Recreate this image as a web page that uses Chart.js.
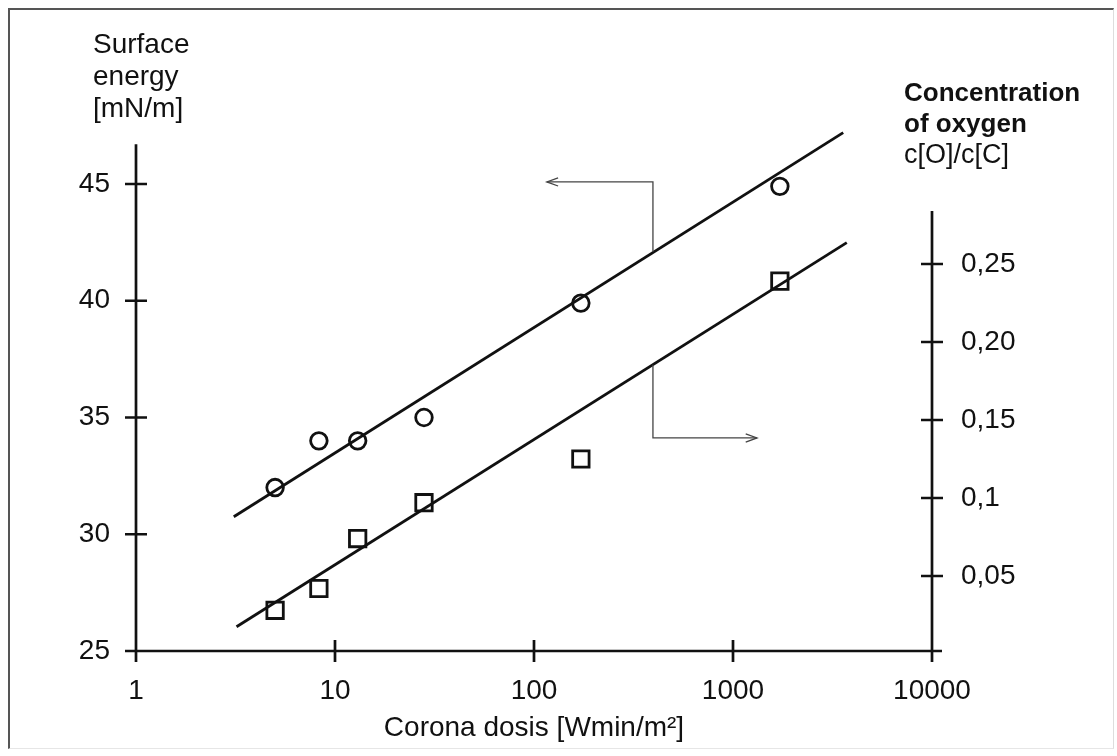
<!DOCTYPE html>
<html lang="en">
<head>
<meta charset="UTF-8">
<title>Surface energy and oxygen concentration vs corona dosis</title>
<style>
    body {
        margin: 0;
        background: #fff;
    }
    .frame {
        position: absolute;
        left: 8px;
        top: 8px;
        width: 1103px;
        height: 738px;
        border-top: 2px solid #555;
        border-left: 2px solid #555;
        border-right: 1px solid #ddd;
        border-bottom: 1px solid #e6e6e6;
    }
    canvas {
        position: absolute;
        left: 0;
        top: 0;
    }
</style>
</head>
<body>
<div class="frame"></div>
<canvas id="chart" width="1117" height="756"></canvas>

<script src="https://cdn.jsdelivr.net/npm/chart.js"></script>
<script>
// measured points (corona dosis in Wmin/m²)
const dosis = [5, 8.3, 13, 28, 172, 1720];
const surfaceEnergy = [32.0, 34.0, 34.0, 35.0, 39.9, 44.9];
const oxygenRatio = [0.028, 0.042, 0.074, 0.097, 0.125, 0.239];

// regression lines (end points)
const energyFitX = [3.1, 3580];
const energyFitY = [30.75, 47.2];
const oxygenFitX = [3.2, 3730];
const oxygenFitY = [0.0175, 0.2637];

// pointer arrows
const arrowLeftX = [396, 396, 116];
const arrowLeftY = [42.1, 45.09, 45.09];
const arrowRightX = [396, 396, 1320];
const arrowRightY = [0.1854, 0.1385, 0.1385];

// axes
const xTicks = [1, 10, 100, 1000, 10000];
const leftTicks = [25, 30, 35, 40, 45];
const rightTicks = [0.05, 0.1, 0.15, 0.2, 0.25];
const rightTickLabels = ['0,05', '0,1', '0,15', '0,20', '0,25'];
const leftTitle = ['Surface', 'energy', '[mN/m]'];
const rightTitle = ['Concentration', 'of oxygen', 'c[O]/c[C]'];
const xTitle = 'Corona dosis [Wmin/m\u00b2]';

const FONT = '"Liberation Sans", Arial, sans-serif';
const INK = '#111';

function pts(xs, ys) {
    return xs.map((v, i) => ({x: v, y: ys[i]}));
}

// axis lines with crossing ticks, arrow heads and the two side titles
const drawAxes = {
    id: 'drawAxes',
    afterDraw(chart) {
        const {ctx, scales: {x, y, y2}} = chart;
        const x0 = x.getPixelForValue(1);
        const x1 = x.getPixelForValue(10000);
        const yb = y.getPixelForValue(25);
        const t = 11;

        ctx.save();
        ctx.strokeStyle = INK;
        ctx.lineWidth = 2.7;
        ctx.beginPath();
        ctx.moveTo(x0, yb + 6);
        ctx.lineTo(x0, y.getPixelForValue(46.7));
        ctx.moveTo(x0 - t, yb);
        ctx.lineTo(x1 + 10, yb);
        ctx.moveTo(x1, yb + 10);
        ctx.lineTo(x1, y2.getPixelForValue(0.284));
        leftTicks.forEach(v => {
            const p = y.getPixelForValue(v);
            ctx.moveTo(x0 - t, p);
            ctx.lineTo(x0 + t, p);
        });
        rightTicks.forEach(v => {
            const p = y2.getPixelForValue(v);
            ctx.moveTo(x1 - t, p);
            ctx.lineTo(x1 + t, p);
        });
        xTicks.forEach(v => {
            const p = x.getPixelForValue(v);
            ctx.moveTo(p, yb - t);
            ctx.lineTo(p, yb + t);
        });
        ctx.stroke();

        // open arrow heads at the end of both pointers
        ctx.strokeStyle = '#444';
        ctx.lineWidth = 1.3;
        [2, 3].forEach(i => {
            const d = chart.getDatasetMeta(i).data;
            const a = d[d.length - 2], b = d[d.length - 1];
            const ang = Math.atan2(b.y - a.y, b.x - a.x);
            ctx.beginPath();
            ctx.moveTo(b.x - 12 * Math.cos(ang - 0.35), b.y - 12 * Math.sin(ang - 0.35));
            ctx.lineTo(b.x, b.y);
            ctx.lineTo(b.x - 12 * Math.cos(ang + 0.35), b.y - 12 * Math.sin(ang + 0.35));
            ctx.stroke();
        });

        ctx.fillStyle = INK;
        ctx.font = '28px ' + FONT;
        ctx.textAlign = 'left';
        ctx.textBaseline = 'alphabetic';
        leftTitle.forEach((s, i) => ctx.fillText(s, 93, 53 + i * 32));
        rightTitle.forEach((s, i) => {
            ctx.font = (i < 2 ? 'bold 26px ' : '27px ') + FONT;
            ctx.fillText(s, 904, 101 + i * 31);
        });
        ctx.restore();
    }
};

new Chart(document.getElementById('chart'), {
    type: 'scatter',
    data: {
        datasets: [
            {
                label: 'Surface energy',
                data: pts(dosis, surfaceEnergy),
                yAxisID: 'y',
                pointStyle: 'circle',
                pointRadius: 8.3,
                borderWidth: 2.8,
                borderColor: INK,
                backgroundColor: 'rgba(0,0,0,0)'
            },
            {
                label: 'Oxygen',
                data: pts(dosis, oxygenRatio),
                yAxisID: 'y2',
                pointStyle: 'rect',
                pointRadius: 11.6,
                borderWidth: 2.8,
                borderColor: INK,
                backgroundColor: 'rgba(0,0,0,0)'
            },
            {
                label: 'pointer left',
                data: pts(arrowLeftX, arrowLeftY),
                yAxisID: 'y',
                showLine: true,
                pointRadius: 0,
                borderWidth: 1.3,
                borderColor: '#444'
            },
            {
                label: 'pointer right',
                data: pts(arrowRightX, arrowRightY),
                yAxisID: 'y2',
                showLine: true,
                pointRadius: 0,
                borderWidth: 1.3,
                borderColor: '#444'
            },
            {
                label: 'Energy fit',
                data: pts(energyFitX, energyFitY),
                yAxisID: 'y',
                showLine: true,
                pointRadius: 0,
                borderWidth: 2.8,
                borderColor: INK
            },
            {
                label: 'Oxygen fit',
                data: pts(oxygenFitX, oxygenFitY),
                yAxisID: 'y2',
                showLine: true,
                pointRadius: 0,
                borderWidth: 2.8,
                borderColor: INK
            }
        ]
    },
    options: {
        responsive: false,
        animation: false,
        devicePixelRatio: 1,
        layout: { padding: { top: 120, left: 0, right: 0, bottom: 0 } },
        plugins: {
            legend: { display: false },
            tooltip: { enabled: false }
        },
        scales: {
            x: {
                type: 'logarithmic',
                min: 1,
                max: 10000,
                grid: { display: false, drawTicks: false },
                border: { display: false },
                afterBuildTicks: axis => { axis.ticks = xTicks.map(v => ({value: v})); },
                afterFit: axis => { axis.height = 105; },
                ticks: {
                    padding: 23,
                    color: INK,
                    font: { family: FONT, size: 28 },
                    callback: v => String(v)
                },
                title: {
                    display: true,
                    text: xTitle,
                    color: INK,
                    font: { family: FONT, size: 28 },
                    padding: { top: 0, bottom: 11 }
                }
            },
            y: {
                position: 'left',
                min: 25,
                max: 25 + 531 / 23.35,
                grid: { display: false, drawTicks: false },
                border: { display: false },
                afterBuildTicks: axis => { axis.ticks = leftTicks.map(v => ({value: v})); },
                afterFit: axis => { axis.width = 136; },
                ticks: {
                    padding: 26,
                    color: INK,
                    font: { family: FONT, size: 28 },
                    callback: v => String(v)
                }
            },
            y2: {
                position: 'right',
                min: 3 / 1560,
                max: 534 / 1560,
                grid: { display: false, drawTicks: false },
                border: { display: false },
                afterBuildTicks: axis => { axis.ticks = rightTicks.map(v => ({value: v})); },
                afterFit: axis => { axis.width = 185; },
                ticks: {
                    padding: 29,
                    color: INK,
                    font: { family: FONT, size: 28 },
                    callback: (v, i) => rightTickLabels[i]
                }
            }
        }
    },
    plugins: [drawAxes]
});
</script>
</body>
</html>
